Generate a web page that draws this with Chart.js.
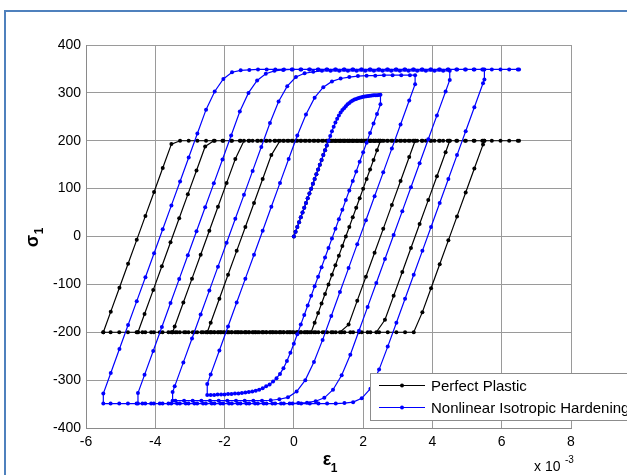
<!DOCTYPE html>
<html>
<head>
<meta charset="utf-8">
<script src="https://cdn.jsdelivr.net/npm/chart.js@4.4.0/dist/chart.umd.min.js"></script>
<style>
  html, body { margin: 0; padding: 0; background: #fff; }
  #wrap { position: relative; width: 627px; height: 475px; overflow: hidden; }
  #frame { position: absolute; left: 4px; top: 10px; width: 700px; height: 600px; border: 2px solid #4f81bd; box-sizing: border-box; }
  canvas { position: absolute; left: 0; top: 0; }
</style>
</head>
<body>
<div id="wrap">
  <div id="frame"></div>
  <canvas id="chart" width="627" height="475"></canvas>
</div>
<script>
// strain (x 10^-3), one row per loading branch: 0 -> 2.5 -> -2.5 -> 3.5 -> -3.5 -> 4.5 -> -4.5 -> 5.5 -> -5.5 -> 6.5
const strain = [
  [0, 0.05, 0.1, 0.15, 0.2, 0.25, 0.3, 0.35, 0.4, 0.45,
   0.5, 0.55, 0.6, 0.65, 0.7, 0.75, 0.8, 0.85, 0.9, 0.95,
   1.0, 1.05, 1.1, 1.15, 1.2, 1.25, 1.3, 1.35, 1.4, 1.45,
   1.5, 1.55, 1.6, 1.65, 1.7, 1.75, 1.8, 1.85, 1.9, 1.95,
   2.0, 2.05, 2.1, 2.15, 2.2, 2.25, 2.3, 2.35, 2.4, 2.45, 2.5],
  [2.5, 2.4, 2.3, 2.2, 2.1, 2.0, 1.9, 1.8, 1.7, 1.6,
   1.5, 1.4, 1.3, 1.2, 1.1, 1.0, 0.9, 0.8, 0.7, 0.6,
   0.5, 0.4, 0.3, 0.2, 0.1, 0, -0.1, -0.2, -0.3, -0.4,
   -0.5, -0.6, -0.7, -0.8, -0.9, -1.0, -1.1, -1.2, -1.3, -1.4,
   -1.5, -1.6, -1.7, -1.8, -1.9, -2.0, -2.1, -2.2, -2.3, -2.4, -2.5],
  [-2.5, -2.4, -2.15, -1.9, -1.65, -1.4, -1.15, -0.9, -0.65, -0.4,
   -0.15, 0.1, 0.35, 0.6, 0.85, 1.1, 1.35, 1.6, 1.85, 2.1,
   2.35, 2.6, 2.85, 3.1, 3.35, 3.5],
  [3.5, 3.33, 3.08, 2.83, 2.58, 2.33, 2.08, 1.83, 1.58, 1.33,
   1.08, 0.83, 0.58, 0.33, 0.08, -0.17, -0.42, -0.67, -0.92, -1.17,
   -1.42, -1.67, -1.92, -2.17, -2.42, -2.67, -2.92, -3.17, -3.42, -3.5],
  [-3.5, -3.44, -3.19, -2.94, -2.69, -2.44, -2.19, -1.94, -1.69, -1.44,
   -1.19, -0.94, -0.69, -0.44, -0.19, 0.06, 0.31, 0.56, 0.81, 1.06,
   1.31, 1.56, 1.81, 2.06, 2.31, 2.56, 2.81, 3.06, 3.31, 3.56,
   3.81, 4.06, 4.31, 4.5],
  [4.5, 4.38, 4.13, 3.88, 3.63, 3.38, 3.13, 2.88, 2.63, 2.38,
   2.13, 1.88, 1.63, 1.38, 1.13, 0.88, 0.63, 0.38, 0.13, -0.12,
   -0.37, -0.62, -0.87, -1.12, -1.37, -1.62, -1.87, -2.12, -2.37, -2.62,
   -2.87, -3.12, -3.37, -3.62, -3.87, -4.12, -4.37, -4.5],
  [-4.5, -4.31, -4.06, -3.81, -3.56, -3.31, -3.06, -2.81, -2.56, -2.31,
   -2.06, -1.81, -1.56, -1.31, -1.06, -0.81, -0.56, -0.31, -0.06, 0.19,
   0.44, 0.69, 0.94, 1.19, 1.44, 1.69, 1.94, 2.19, 2.44, 2.69,
   2.94, 3.19, 3.44, 3.69, 3.94, 4.19, 4.44, 4.69, 4.94, 5.19,
   5.44, 5.5],
  [5.5, 5.46, 5.21, 4.96, 4.71, 4.46, 4.21, 3.96, 3.71, 3.46,
   3.21, 2.96, 2.71, 2.46, 2.21, 1.96, 1.71, 1.46, 1.21, 0.96,
   0.71, 0.46, 0.21, -0.04, -0.29, -0.54, -0.79, -1.04, -1.29, -1.54,
   -1.79, -2.04, -2.29, -2.54, -2.79, -3.04, -3.29, -3.54, -3.79, -4.04,
   -4.29, -4.54, -4.79, -5.04, -5.29, -5.5],
  [-5.5, -5.285, -5.035, -4.785, -4.535, -4.285, -4.035, -3.785, -3.535, -3.285,
   -3.035, -2.785, -2.535, -2.285, -2.035, -1.785, -1.535, -1.285, -1.035, -0.785,
   -0.535, -0.285, -0.035, 0.215, 0.465, 0.715, 0.965, 1.215, 1.465, 1.715,
   1.965, 2.215, 2.465, 2.715, 2.965, 3.215, 3.465, 3.715, 3.965, 4.215,
   4.465, 4.715, 4.965, 5.215, 5.465, 5.715, 5.965, 6.215, 6.465, 6.5]
];

// sigma_1, perfect plastic (MPa)
const perfectPlastic = [
  [0, 10, 20, 30, 40, 50, 60, 70, 80, 90,
   100, 110, 120, 130, 140, 150, 160, 170, 180, 190,
   200, 200, 200, 200, 200, 200, 200, 200, 200, 200,
   200, 200, 200, 200, 200, 200, 200, 200, 200, 200,
   200, 200, 200, 200, 200, 200, 200, 200, 200, 200, 200],
  [200, 180, 160, 140, 120, 100, 80, 60, 40, 20,
   0, -20, -40, -60, -80, -100, -120, -140, -160, -180,
   -200, -200, -200, -200, -200, -200, -200, -200, -200, -200,
   -200, -200, -200, -200, -200, -200, -200, -200, -200, -200,
   -200, -200, -200, -200, -200, -200, -200, -200, -200, -200, -200],
  [-200, -180, -130, -80, -30, 20, 70, 120, 170, 200,
   200, 200, 200, 200, 200, 200, 200, 200, 200, 200,
   200, 200, 200, 200, 200, 200],
  [200, 166, 116, 66, 16, -34, -84, -134, -184, -200,
   -200, -200, -200, -200, -200, -200, -200, -200, -200, -200,
   -200, -200, -200, -200, -200, -200, -200, -200, -200, -200],
  [-200, -188, -138, -88, -38, 12, 62, 112, 162, 200,
   200, 200, 200, 200, 200, 200, 200, 200, 200, 200,
   200, 200, 200, 200, 200, 200, 200, 200, 200, 200,
   200, 200, 200, 200],
  [200, 176, 126, 76, 26, -24, -74, -124, -174, -200,
   -200, -200, -200, -200, -200, -200, -200, -200, -200, -200,
   -200, -200, -200, -200, -200, -200, -200, -200, -200, -200,
   -200, -200, -200, -200, -200, -200, -200, -200],
  [-200, -162, -112, -62, -12, 38, 88, 138, 188, 200,
   200, 200, 200, 200, 200, 200, 200, 200, 200, 200,
   200, 200, 200, 200, 200, 200, 200, 200, 200, 200,
   200, 200, 200, 200, 200, 200, 200, 200, 200, 200,
   200, 200],
  [200, 192, 142, 92, 42, -8, -58, -108, -158, -200,
   -200, -200, -200, -200, -200, -200, -200, -200, -200, -200,
   -200, -200, -200, -200, -200, -200, -200, -200, -200, -200,
   -200, -200, -200, -200, -200, -200, -200, -200, -200, -200,
   -200, -200, -200, -200, -200, -200],
  [-200, -157, -107, -57, -7, 43, 93, 143, 193, 200,
   200, 200, 200, 200, 200, 200, 200, 200, 200, 200,
   200, 200, 200, 200, 200, 200, 200, 200, 200, 200,
   200, 200, 200, 200, 200, 200, 200, 200, 200, 200,
   200, 200, 200, 200, 200, 200, 200, 200, 200, 200]
];

// sigma_1, nonlinear isotropic hardening (MPa)
const isoHardening = [
  [0, 10, 20, 30, 40, 50, 60, 70, 80, 90,
   100, 110, 120, 130, 140, 150, 160, 170, 180, 190,
   200, 210, 220, 229, 238, 246, 253, 259, 264, 268,
   272, 276, 279, 282, 284, 286, 287, 289, 290, 291,
   292, 292.5, 293, 293.5, 294, 294.5, 295, 295, 295, 295.5, 296],
  [276, 256, 236, 216, 196, 176, 156, 136, 116, 96,
   76, 56, 36, 16, -4, -24, -44, -64, -84, -104,
   -124, -144, -164, -184, -204, -224, -243, -260, -275, -287,
   -296, -303, -309, -313, -317, -320, -322, -324, -325, -326,
   -327, -328, -328, -329, -329, -330, -330, -330, -331, -331, -331],
  [-308, -288, -238, -188, -138, -88, -38, 12, 62, 112,
   162, 211, 255, 290, 312, 324, 330, 333, 335, 336,
   336, 337, 337, 337, 337, 337],
  [318, 284, 234, 184, 134, 84, 34, -16, -66, -116,
   -166, -216, -262, -300, -324, -336, -340, -342, -343, -343,
   -343, -343, -343, -343, -343, -343, -343, -343, -343, -343],
  [-325, -313, -263, -213, -163, -113, -63, -13, 37, 87,
   137, 187, 237, 282, 314, 333, 341, 344, 346, 346,
   346, 346, 346, 346, 346, 346, 346, 346, 346, 346,
   346, 346, 346, 346],
  [327, 303, 253, 203, 153, 103, 53, 3, -47, -97,
   -147, -197, -247, -290, -320, -337, -344, -347, -348, -349,
   -349, -349, -349, -349, -349, -349, -349, -349, -349, -349,
   -349, -349, -349, -349, -349, -349, -349, -349],
  [-327, -289, -239, -189, -139, -89, -39, 11, 61, 111,
   161, 211, 261, 300, 326, 340, 346, 348, 349, 349,
   349, 349, 349, 349, 349, 349, 349, 349, 349, 349,
   349, 349, 349, 349, 349, 349, 349, 349, 349, 349,
   349, 349],
  [328, 320, 270, 220, 170, 120, 70, 20, -30, -80,
   -130, -180, -230, -278, -318, -338, -346, -348, -349, -349,
   -349, -349, -349, -349, -349, -349, -349, -349, -349, -349,
   -349, -349, -349, -349, -349, -349, -349, -349, -349, -349,
   -349, -349, -349, -349, -349, -349],
  [-328, -285, -235, -185, -135, -85, -35, 15, 65, 115,
   165, 215, 265, 303, 329, 343, 347, 348, 349, 349,
   349, 349, 349, 349, 349, 349, 349, 349, 349, 349,
   349, 349, 349, 349, 349, 349, 349, 349, 349, 349,
   349, 349, 349, 349, 349, 349, 349, 349, 349, 349]
];

const xTicks = { min: -6, max: 8, step: 2 };
const yTicks = { min: -400, max: 400, step: 100 };
const seriesNames = ["Perfect Plastic", "Nonlinear Isotropic Hardening"];
const seriesColors = ["#000000", "#0000ff"];

function toPoints(stress) {
  const pts = [];
  strain.forEach((branch, b) => {
    if (branch.length !== stress[b].length) console.error("branch " + b + " length mismatch");
    const n = Math.min(branch.length, stress[b].length);
    for (let i = 0; i < n; i++) pts.push({ x: branch[i], y: stress[b][i] });
  });
  return pts;
}

const fontFamily = "'Liberation Sans', Arial, sans-serif";

// legend, axis labels and the x 10^-3 multiplier, drawn like the MATLAB figure
const decorations = {
  id: "decorations",
  afterDraw(chart) {
    const ctx = chart.ctx;
    ctx.save();

    // legend box (runs off the right edge in the original)
    ctx.fillStyle = "#fff";
    ctx.strokeStyle = "#8c8c8c";
    ctx.lineWidth = 1;
    ctx.fillRect(370.5, 373.5, 290, 47);
    ctx.strokeRect(370.5, 373.5, 290, 47);
    const rows = [385.5, 407.5];
    ctx.font = "15px " + fontFamily;
    ctx.textBaseline = "middle";
    ctx.textAlign = "left";
    rows.forEach((y, i) => {
      ctx.strokeStyle = seriesColors[i];
      ctx.lineWidth = 1.2;
      ctx.beginPath();
      ctx.moveTo(379, y);
      ctx.lineTo(425, y);
      ctx.stroke();
      ctx.fillStyle = seriesColors[i];
      ctx.beginPath();
      ctx.arc(402, y, 2, 0, Math.PI * 2);
      ctx.fill();
      ctx.fillStyle = "#000";
      ctx.fillText(seriesNames[i], 431, y + 1);
    });

    // y label: sigma_1 rotated
    ctx.fillStyle = "#000";
    ctx.save();
    ctx.translate(38, 237);
    ctx.rotate(-Math.PI / 2);
    ctx.font = "bold 18px " + fontFamily;
    ctx.textAlign = "center";
    ctx.textBaseline = "alphabetic";
    ctx.fillText("\u03c3", -4, 0);
    ctx.font = "bold 12px " + fontFamily;
    ctx.fillText("1", 6, 5);
    ctx.restore();

    // x label: epsilon_1
    ctx.font = "bold 18px " + fontFamily;
    ctx.textAlign = "center";
    ctx.textBaseline = "alphabetic";
    ctx.fillText("\u03b5", 327, 465);
    ctx.font = "bold 12px " + fontFamily;
    ctx.fillText("1", 334, 472);

    // exponent
    ctx.font = "14px " + fontFamily;
    ctx.textAlign = "left";
    ctx.fillText("x 10", 534, 471);
    ctx.font = "10px " + fontFamily;
    ctx.fillText("-3", 565, 463);

    ctx.restore();
  }
};

const tickFont = { family: fontFamily, size: 14 };

new Chart(document.getElementById("chart"), {
  type: "scatter",
  data: {
    datasets: [
      {
        label: seriesNames[0],
        data: toPoints(perfectPlastic),
        showLine: true,
        borderColor: seriesColors[0],
        backgroundColor: seriesColors[0],
        borderWidth: 1.2,
        pointRadius: 2,
        pointBorderWidth: 0,
        pointBackgroundColor: seriesColors[0],
        order: 2
      },
      {
        label: seriesNames[1],
        data: toPoints(isoHardening),
        showLine: true,
        borderColor: seriesColors[1],
        backgroundColor: seriesColors[1],
        borderWidth: 1.2,
        pointRadius: 2,
        pointBorderWidth: 0,
        pointBackgroundColor: seriesColors[1],
        order: 1
      }
    ]
  },
  options: {
    responsive: false,
    animation: false,
    devicePixelRatio: 1,
    layout: { padding: { top: 45, right: 56, left: 0, bottom: 0 } },
    plugins: {
      legend: { display: false },
      tooltip: { enabled: false }
    },
    scales: {
      x: {
        type: "linear",
        min: xTicks.min,
        max: xTicks.max,
        afterFit(scale) { scale.height = 47; },
        ticks: { stepSize: xTicks.step, color: "#000", font: tickFont, padding: 6, maxRotation: 0 },
        grid: { color: "#9a9a9a", lineWidth: 1, drawTicks: false },
        border: { color: "#8a8a8a", width: 1 }
      },
      y: {
        type: "linear",
        min: yTicks.min,
        max: yTicks.max,
        afterFit(scale) { scale.width = 86; },
        ticks: { stepSize: yTicks.step, color: "#000", font: tickFont, padding: 5 },
        grid: { color: "#9a9a9a", lineWidth: 1, drawTicks: false },
        border: { color: "#8a8a8a", width: 1 }
      }
    }
  },
  plugins: [decorations]
});
</script>
</body>
</html>
